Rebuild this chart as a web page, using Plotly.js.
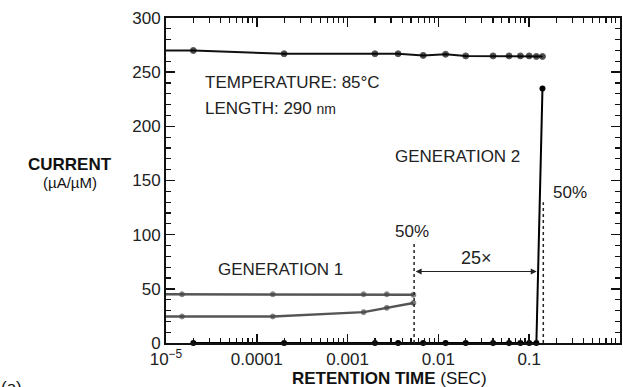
<!DOCTYPE html>
<html>
<head>
<meta charset="utf-8">
<script src="https://cdn.plot.ly/plotly-3.0.1.min.js"></script>
<style>html,body{margin:0;padding:0;background:#fff;}#chart{width:623px;height:387px;}</style>
</head>
<body>
<div id="chart"></div>
<script>
// Generation 2: initial current and current after retention
const gen2TopTime = [1e-5, 2e-5, 2e-4, 0.002, 0.0036, 0.0068, 0.012, 0.02, 0.04, 0.06, 0.08, 0.1, 0.12, 0.14];
const gen2TopCurrent = [270, 270, 267, 267, 267, 265.5, 266.5, 265, 265, 265, 265, 265, 264.5, 264.5];
const gen2LowTime = [2e-5, 2e-4, 0.002, 0.0036, 0.0068, 0.012, 0.02, 0.04, 0.06, 0.08, 0.1, 0.12, 0.14];
const gen2LowCurrent = [0, 0, 0, 0, 0, 0, 0, 0, 0, 0, 0, 0, 235];
// Generation 1
const gen1Time = [1e-5, 1.5e-5, 1.5e-4, 0.0015, 0.0027, 0.0053];
const gen1Upper = [45, 45, 45, 45, 45, 44.5];
const gen1Lower = [24.5, 24.5, 24.5, 28.5, 32.5, 37];
// 50% markers and 25x span
const half1Time = 0.0054, half1Top = 92;
const half2Time = 0.143, half2Top = 130;
const spanStart = 0.0054, spanEnd = 0.121, spanLevel = 66;
// Axis tick labels
const xTickVals = [1e-5, 1e-4, 1e-3, 1e-2, 1e-1, 1];
const xTickText = ['10<sup>−5</sup>', '0.0001', '0.001', '0.01', '0.1', '1'];
const yTickVals = [0, 50, 100, 150, 200, 250, 300];

const minorX = [];
for (let d = -5; d < 0; d++) for (let k = 2; k <= 9; k++) minorX.push(k * Math.pow(10, d));

const FONT = 'Liberation Sans, Arial, Helvetica, sans-serif';
const TXT = '#222';
const L = Math.log10;

const gen1Sizes = gen1Time.map((_, i) => i === 0 ? 0 : 5);
const topSizes = gen2TopTime.map((_, i) => i === 0 ? 0 : 6);

const traces = [
  {x: gen1Time, y: gen1Upper, mode: 'lines+markers', line: {color: '#555', width: 2.5}, marker: {color: '#444', size: gen1Sizes}, cliponaxis: false},
  {x: gen1Time, y: gen1Lower, mode: 'lines+markers', line: {color: '#555', width: 2.5}, marker: {color: '#444', size: gen1Sizes}, cliponaxis: false},
  {x: gen2TopTime, y: gen2TopCurrent, mode: 'lines+markers', line: {color: '#111', width: 2}, marker: {color: '#000', size: topSizes}, cliponaxis: false},
  {x: gen2LowTime, y: gen2LowCurrent, mode: 'lines+markers', line: {color: '#000', width: 2}, marker: {color: '#000', size: 6}, cliponaxis: false},
  {x: [half1Time, half1Time], y: [0, half1Top], mode: 'lines', line: {color: '#222', width: 1.5, dash: 'dot'}},
  {x: [half2Time, half2Time], y: [0, half2Top], mode: 'lines', line: {color: '#222', width: 1.5, dash: 'dot'}}
];

const ann = (x, y, text, opts) => Object.assign({x: x, y: y, xref: 'x', yref: 'y', text: text, showarrow: false,
  xanchor: 'center', yanchor: 'middle',
  font: {family: FONT, size: 17, color: TXT}}, opts || {});

const layout = {
  width: 623, height: 387,
  margin: {l: 166, r: 3, t: 18, b: 44},
  paper_bgcolor: '#fff', plot_bgcolor: '#fff',
  showlegend: false,
  font: {family: FONT, size: 17, color: TXT},
  xaxis: {
    type: 'log', range: [-5, 0],
    tickvals: xTickVals, ticktext: xTickText,
    ticks: 'inside', ticklen: 9, tickwidth: 1.5, tickcolor: '#111',
    showline: true, linecolor: '#111', linewidth: 2, mirror: 'allticks',
    showgrid: false, zeroline: false,
    tickfont: {family: FONT, size: 17, color: TXT},
    minor: {tickvals: minorX, ticks: 'inside', ticklen: 5, tickwidth: 1.2, tickcolor: '#111', showgrid: false}
  },
  yaxis: {
    range: [0, 300],
    tickvals: yTickVals,
    ticks: 'inside', ticklen: 9, tickwidth: 1.5, tickcolor: '#111',
    showline: true, linecolor: '#111', linewidth: 2, mirror: 'allticks',
    showgrid: false, zeroline: false,
    tickfont: {family: FONT, size: 17, color: TXT},
    minor: {dtick: 10, ticks: 'inside', ticklen: 5, tickwidth: 1.2, tickcolor: '#111', showgrid: false}
  },
  annotations: [
    ann(-4.593, 240.9, 'TEMPERATURE: 85°C', {xanchor: 'left'}),
    ann(-4.593, 216.9, 'LENGTH: 290 <span style="font-size:14px">nm</span>', {xanchor: 'left'}),
    ann(-1.795, 171.7, 'GENERATION 2'),
    ann(-0.760, 138.5, '50%', {xanchor: 'left'}),
    ann(-4.449, 67.4, 'GENERATION 1', {xanchor: 'left'}),
    ann(-2.291, 102.5, '50%'),
    ann(-1.575, 78.5, '25×', {font: {family: FONT, size: 18, color: TXT}}),
    {x: L(spanEnd), y: spanLevel, ax: L(spanStart), ay: spanLevel, xref: 'x', yref: 'y', axref: 'x', ayref: 'y',
     text: '', showarrow: true, arrowside: 'end+start', arrowhead: 2, arrowsize: 1.2, arrowwidth: 1, arrowcolor: '#222', standoff: 0, startstandoff: 0},
    {x: -0.2115, y: 0.55, xref: 'paper', yref: 'paper', xanchor: 'center', yanchor: 'middle', text: '<b>CURRENT</b>', showarrow: false, font: {family: FONT, size: 17, color: '#111'}},
    {x: -0.2115, y: 0.493, xref: 'paper', yref: 'paper', xanchor: 'center', yanchor: 'middle', text: '(µA/µM)', showarrow: false, font: {family: FONT, size: 15, color: '#111'}},
    {x: 0.493, y: -0.108, xref: 'paper', yref: 'paper', xanchor: 'center', yanchor: 'middle', text: '<b>RETENTION TIME</b> (SEC)', showarrow: false, font: {family: FONT, size: 17, color: '#111'}},
    {x: -0.34, y: -0.1, xref: 'paper', yref: 'paper', xanchor: 'center', yanchor: 'top', text: '(a)', showarrow: false, font: {family: FONT, size: 17, color: '#111'}}
  ]
};

Plotly.newPlot('chart', traces, layout, {staticPlot: true, displayModeBar: false});
</script>
</body>
</html>
